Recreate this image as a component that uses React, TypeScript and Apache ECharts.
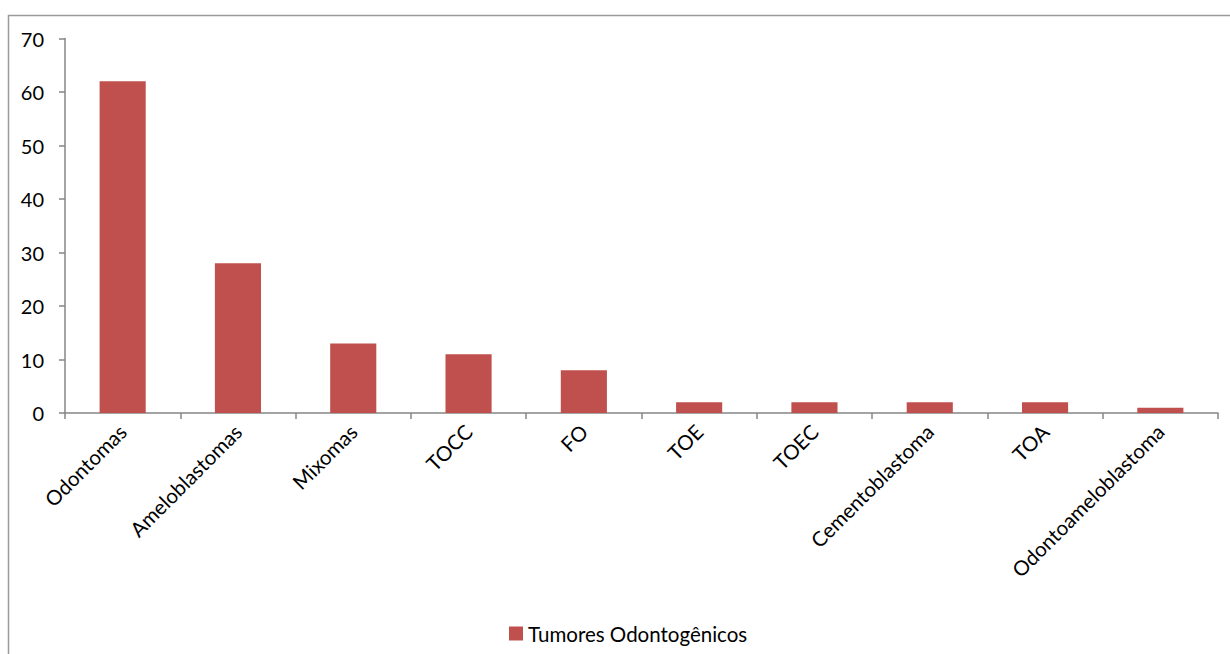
import React, { useEffect, useRef } from "react";
import * as echarts from "echarts";

const categories = [
  "Odontomas",
  "Ameloblastomas",
  "Mixomas",
  "TOCC",
  "FO",
  "TOE",
  "TOEC",
  "Cementoblastoma",
  "TOA",
  "Odontoameloblastoma",
];
const values = [62, 28, 13, 11, 8, 2, 2, 2, 2, 1];
const seriesName = "Tumores Odontogênicos";
const yTicks = { min: 0, max: 70, interval: 10 };

const FONT = "Lato, 'Open Sans', sans-serif";

export default function App() {
  const ref = useRef<HTMLDivElement>(null);
  useEffect(() => {
    if (!ref.current) return;
    const chart = echarts.init(ref.current, undefined, { renderer: "svg" });
    chart.setOption({
      animation: false,
      backgroundColor: "#ffffff",
      textStyle: { fontFamily: FONT },
      graphic: [
        {
          type: "polyline",
          shape: { points: [[8.5, 654], [8.5, 15.5], [1230, 15.5]] },
          style: { stroke: "#9a9a9a", lineWidth: 1.5, fill: "none" },
          silent: true,
        },
      ],
      grid: { left: 65, right: 12, top: 38.5, bottom: 241, containLabel: false },
      legend: {
        left: 504,
        top: 618,
        icon: "rect",
        itemWidth: 14,
        itemHeight: 14,
        itemGap: 6,
        textStyle: { fontFamily: FONT, fontSize: 20.5, color: "#000", padding: [0, 0, 0, 0] },
        data: [seriesName],
      },
      xAxis: {
        type: "category",
        data: categories,
        axisLine: { show: true, lineStyle: { color: "#868686", width: 1.5 } },
        axisTick: { show: true, alignWithLabel: false, length: 6, lineStyle: { color: "#868686", width: 1.5 } },
        axisLabel: {
          rotate: 45,
          interval: 0,
          margin: 15,
          fontSize: 20.5,
          color: "#000",
          fontFamily: FONT,
        },
        splitLine: { show: false },
      },
      yAxis: {
        type: "value",
        min: yTicks.min,
        max: yTicks.max,
        interval: yTicks.interval,
        axisLine: { show: true, lineStyle: { color: "#868686", width: 1.5 } },
        axisTick: { show: true, length: 6, lineStyle: { color: "#868686", width: 1.5 } },
        axisLabel: { fontSize: 20, color: "#000", margin: 21, fontFamily: FONT },
        splitLine: { show: false },
      },
      series: [
        {
          name: seriesName,
          type: "bar",
          data: values,
          barWidth: "40%",
          itemStyle: { color: "#C0504D" },
        },
      ],
    });
    return () => chart.dispose();
  }, []);
  return (
    <div
      ref={ref}
      style={{ position: "absolute", left: 0, top: 0, width: 1230, height: 654 }}
    />
  );
}
